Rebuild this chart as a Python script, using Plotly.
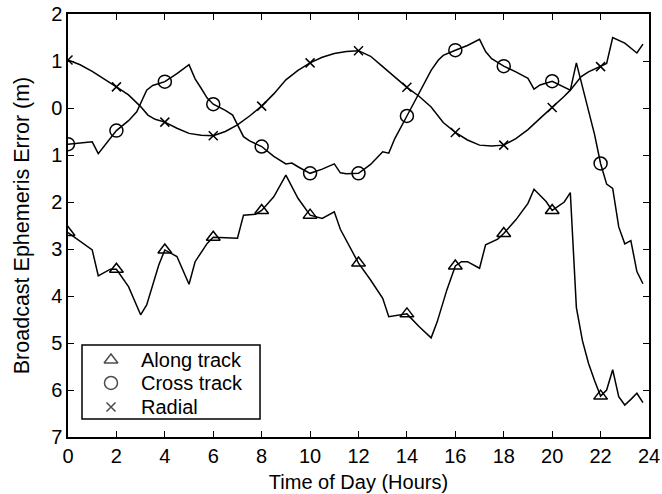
import plotly.graph_objects as go

# Hourly error components over one day (hours, metres)
along_hours = [0, 1.0, 1.25, 1.75, 2, 2.5, 3, 3.25, 3.75, 4, 4.5, 5, 5.25, 5.75, 6, 7, 7.25,
               7.75, 8, 8.5, 9, 9.5, 10, 10.5, 11, 11.25, 12, 12.5, 13, 13.25, 14, 14.5, 15,
               15.25, 15.65, 16, 16.25, 16.5, 17, 17.25, 17.75, 18, 18.5, 19, 19.25, 19.75,
               20, 20.5, 20.75, 21, 21.25, 21.5, 21.75, 22, 22.25, 22.5, 22.75, 23, 23.25,
               23.5, 23.75]
along_err = [-2.65, -3.02, -3.57, -3.43, -3.43, -3.80, -4.40, -4.19, -3.34, -3.02, -3.16,
             -3.75, -3.27, -2.88, -2.75, -2.77, -2.28, -2.26, -2.18, -1.89, -1.43, -1.92,
             -2.28, -2.35, -2.21, -2.58, -3.30, -3.66, -4.05, -4.44, -4.38, -4.65, -4.89,
             -4.55, -3.87, -3.36, -3.27, -3.27, -3.41, -2.91, -2.79, -2.67, -2.38, -2.03,
             -1.73, -1.99, -2.18, -2.00, -1.80, -4.25, -4.95, -5.43, -5.80, -6.13, -6.00,
             -5.57, -6.14, -6.32, -6.20, -6.07, -6.27]

cross_hours = [0, 1.0, 1.25, 2, 2.5, 2.84, 3.25, 3.5, 4, 4.5, 5, 5.25, 5.5, 5.75, 6, 6.5,
               6.8, 7.25, 7.5, 8, 8.5, 9, 9.25, 9.5, 10, 10.5, 11, 11.25, 11.5, 12, 12.5,
               13, 13.25, 13.5, 14, 14.5, 15, 15.3, 15.5, 16, 16.5, 17, 17.25, 17.5, 18,
               18.5, 19, 19.25, 19.5, 20, 20.5, 20.75, 21, 21.5, 21.75, 22, 22.25, 22.5,
               22.75, 23, 23.25, 23.5, 23.75]
cross_err = [-0.77, -0.72, -0.97, -0.48, -0.27, -0.08, 0.38, 0.48, 0.56, 0.73, 0.92, 0.62,
             0.42, 0.21, 0.08, -0.05, -0.15, -0.61, -0.70, -0.82, -1.03, -1.19, -1.17,
             -1.25, -1.39, -1.30, -1.19, -1.38, -1.40, -1.39, -1.20, -0.93, -0.96, -0.65,
             -0.17, 0.33, 0.80, 1.02, 1.12, 1.23, 1.33, 1.46, 1.20, 1.05, 0.89, 0.77, 0.63,
             0.40, 0.49, 0.57, 0.45, 0.38, 0.96, -0.04, -0.56, -1.18, -1.62, -1.71, -2.53,
             -2.89, -2.82, -3.48, -3.74]

radial_hours = [0, 0.5, 1, 1.5, 2, 2.5, 3, 3.3, 3.6, 4, 4.5, 5, 5.5, 6, 6.5, 7, 7.5, 8, 8.5,
                9, 9.5, 10, 10.5, 11, 11.5, 12, 12.5, 13, 13.5, 14, 14.5, 15, 15.5, 16,
                16.5, 17, 17.5, 18, 18.5, 19, 19.5, 20, 20.5, 20.75, 21.2, 21.5, 22, 22.25,
                22.5, 23, 23.5, 23.75]
radial_err = [1.02, 0.92, 0.78, 0.62, 0.45, 0.28, 0.03, -0.15, -0.24, -0.30, -0.43, -0.54,
              -0.58, -0.59, -0.50, -0.36, -0.17, 0.04, 0.30, 0.60, 0.80, 0.96, 1.08, 1.16,
              1.20, 1.22, 1.10, 0.88, 0.66, 0.44, 0.25, 0.02, -0.31, -0.52, -0.68, -0.79,
              -0.81, -0.79, -0.65, -0.46, -0.22, 0.01, 0.25, 0.38, 0.67, 0.77, 0.88, 0.95,
              1.50, 1.38, 1.17, 1.36]

series_names = ["Along track", "Cross track", "Radial"]
y_tick_vals = [2, 1, 0, -1, -2, -3, -4, -5, -6, -7]
y_tick_text = ["2", "1", "0", "1", "2", "3", "4", "5", "6", "7"]
x_tick_vals = list(range(0, 25, 2))

styles = [("triangle-up-open", 12), ("circle-open", 13), ("x-thin-open", 9)]
data = [(along_hours, along_err), (cross_hours, cross_err), (radial_hours, radial_err)]

FONT = "Liberation Sans, Arial, Helvetica, sans-serif"
fig = go.Figure()

for hrs, err in data:
    fig.add_trace(go.Scatter(x=hrs, y=err, mode="lines", showlegend=False,
                             line=dict(color="black", width=1.5)))
for (hrs, err), (sym, size) in zip(data, styles):
    # symbols placed every two hours
    mx = [h for h in hrs if h in x_tick_vals and h < 24]
    my = [e for h, e in zip(hrs, err) if h in x_tick_vals and h < 24]
    fig.add_trace(go.Scatter(x=mx, y=my, mode="markers", showlegend=False,
                             marker=dict(symbol=sym, size=size, color="black",
                                         line=dict(color="black", width=1.5))))

# Key box in the lower-left corner (paper-fraction coordinates on an overlay axis)
key_x = 0.074
key_text_x = 0.122
key_rows = [0.182, 0.1277, 0.0709]
fig.add_trace(go.Scatter(x=[key_x] * 3, y=key_rows, xaxis="x2", yaxis="y2",
                         mode="markers", showlegend=False, hoverinfo="skip",
                         marker=dict(symbol=[s for s, _ in styles],
                                     size=[z for _, z in styles], color="black",
                                     line=dict(color="black", width=1.5))))
annotations = [dict(x=key_text_x, y=yy, xref="paper", yref="paper", text=name,
                    showarrow=False, xanchor="left", yanchor="middle",
                    font=dict(family=FONT, size=20, color="black"))
               for name, yy in zip(series_names, key_rows)]

axis_common = dict(showline=True, linecolor="black", linewidth=1.5, mirror="allticks",
                   ticks="inside", ticklen=6, tickwidth=1.2, tickcolor="black",
                   showgrid=False, zeroline=False, automargin=False,
                   tickfont=dict(family=FONT, size=20, color="black"))

fig.update_layout(
    width=662, height=494,
    margin=dict(l=68, r=13, t=14, b=57),
    paper_bgcolor="white", plot_bgcolor="white",
    font=dict(family=FONT, size=20, color="black"),
    showlegend=False,
    xaxis=dict(range=[0, 24], tickvals=x_tick_vals,
               title=dict(text="Time of Day (Hours)", font=dict(family=FONT, size=20),
                          standoff=9),
               **axis_common),
    yaxis=dict(range=[-7, 2], tickvals=y_tick_vals, ticktext=y_tick_text,
               title=dict(text="Broadcast Ephemeris Error (m)",
                          font=dict(family=FONT, size=21.5), standoff=16),
               **axis_common),
    xaxis2=dict(overlaying="x", range=[0, 1], visible=False, fixedrange=True),
    yaxis2=dict(overlaying="y", range=[0, 1], visible=False, fixedrange=True),
    annotations=annotations,
    shapes=[dict(type="rect", xref="paper", yref="paper",
                 x0=0.0241, x1=0.3305, y0=0.0426, y1=0.2175,
                 line=dict(color="black", width=1.5), fillcolor="rgba(0,0,0,0)")],
)

fig.write_html("out.html")
